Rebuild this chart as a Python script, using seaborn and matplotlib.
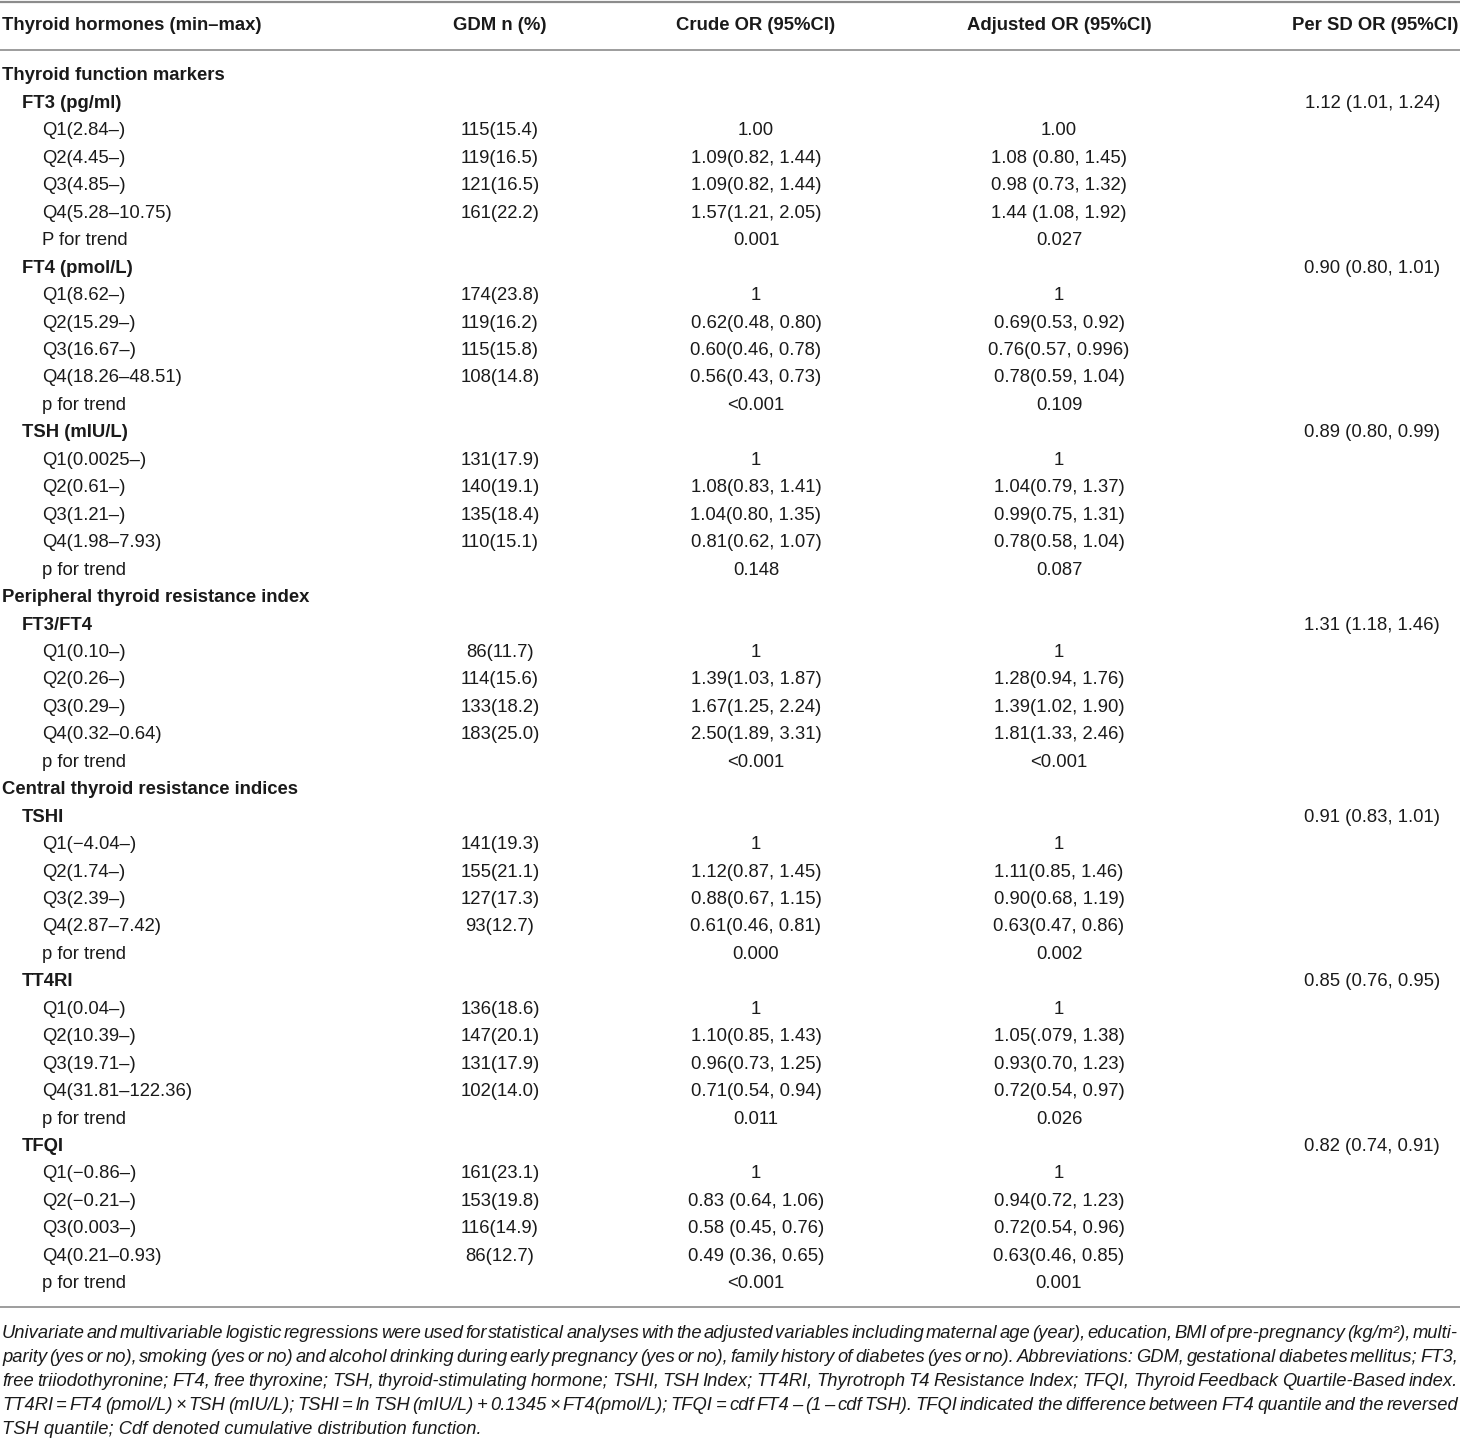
import numpy as np
import pandas as pd
import matplotlib
matplotlib.use("Agg")
import matplotlib.pyplot as plt
import seaborn as sns

sns.set_theme(style="white")
plt.rcParams['font.family'] = ['Liberation Sans', 'DejaVu Sans']

# columns
headers = ["Thyroid hormones (min\u2013max)", "GDM n (%)", "Crude OR (95%CI)",
           "Adjusted OR (95%CI)", "Per SD OR (95%CI)"]

# row labels: (text, level) level 0 = group, 1 = marker, 2 = quartile / trend
labels = [
    ("Thyroid function markers", 0),
    ("FT3 (pg/ml)", 1), ("Q1(2.84\u2013)", 2), ("Q2(4.45\u2013)", 2), ("Q3(4.85\u2013)", 2),
    ("Q4(5.28\u201310.75)", 2), ("P for trend", 2),
    ("FT4 (pmol/L)", 1), ("Q1(8.62\u2013)", 2), ("Q2(15.29\u2013)", 2), ("Q3(16.67\u2013)", 2),
    ("Q4(18.26\u201348.51)", 2), ("p for trend", 2),
    ("TSH (mIU/L)", 1), ("Q1(0.0025\u2013)", 2), ("Q2(0.61\u2013)", 2), ("Q3(1.21\u2013)", 2),
    ("Q4(1.98\u20137.93)", 2), ("p for trend", 2),
    ("Peripheral thyroid resistance index", 0),
    ("FT3/FT4", 1), ("Q1(0.10\u2013)", 2), ("Q2(0.26\u2013)", 2), ("Q3(0.29\u2013)", 2),
    ("Q4(0.32\u20130.64)", 2), ("p for trend", 2),
    ("Central thyroid resistance indices", 0),
    ("TSHI", 1), ("Q1(\u22124.04\u2013)", 2), ("Q2(1.74\u2013)", 2), ("Q3(2.39\u2013)", 2),
    ("Q4(2.87\u20137.42)", 2), ("p for trend", 2),
    ("TT4RI", 1), ("Q1(0.04\u2013)", 2), ("Q2(10.39\u2013)", 2), ("Q3(19.71\u2013)", 2),
    ("Q4(31.81\u2013122.36)", 2), ("p for trend", 2),
    ("TFQI", 1), ("Q1(\u22120.86\u2013)", 2), ("Q2(\u22120.21\u2013)", 2), ("Q3(0.003\u2013)", 2),
    ("Q4(0.21\u20130.93)", 2), ("p for trend", 2),
]

gdm = ["", "",
       "115(15.4)", "119(16.5)", "121(16.5)", "161(22.2)", "", "",
       "174(23.8)", "119(16.2)", "115(15.8)", "108(14.8)", "", "",
       "131(17.9)", "140(19.1)", "135(18.4)", "110(15.1)", "", "", "",
       "86(11.7)", "114(15.6)", "133(18.2)", "183(25.0)", "", "", "",
       "141(19.3)", "155(21.1)", "127(17.3)", "93(12.7)", "", "",
       "136(18.6)", "147(20.1)", "131(17.9)", "102(14.0)", "", "",
       "161(23.1)", "153(19.8)", "116(14.9)", "86(12.7)", ""]

crude = ["", "",
         "1.00", "1.09(0.82, 1.44)", "1.09(0.82, 1.44)", "1.57(1.21, 2.05)", "0.001", "",
         "1", "0.62(0.48, 0.80)", "0.60(0.46, 0.78)", "0.56(0.43, 0.73)", "<0.001", "",
         "1", "1.08(0.83, 1.41)", "1.04(0.80, 1.35)", "0.81(0.62, 1.07)", "0.148", "", "",
         "1", "1.39(1.03, 1.87)", "1.67(1.25, 2.24)", "2.50(1.89, 3.31)", "<0.001", "", "",
         "1", "1.12(0.87, 1.45)", "0.88(0.67, 1.15)", "0.61(0.46, 0.81)", "0.000", "",
         "1", "1.10(0.85, 1.43)", "0.96(0.73, 1.25)", "0.71(0.54, 0.94)", "0.011", "",
         "1", "0.83 (0.64, 1.06)", "0.58 (0.45, 0.76)", "0.49 (0.36, 0.65)", "<0.001"]

adjusted = ["", "",
            "1.00", "1.08 (0.80, 1.45)", "0.98 (0.73, 1.32)", "1.44 (1.08, 1.92)", "0.027", "",
            "1", "0.69(0.53, 0.92)", "0.76(0.57, 0.996)", "0.78(0.59, 1.04)", "0.109", "",
            "1", "1.04(0.79, 1.37)", "0.99(0.75, 1.31)", "0.78(0.58, 1.04)", "0.087", "", "",
            "1", "1.28(0.94, 1.76)", "1.39(1.02, 1.90)", "1.81(1.33, 2.46)", "<0.001", "", "",
            "1", "1.11(0.85, 1.46)", "0.90(0.68, 1.19)", "0.63(0.47, 0.86)", "0.002", "",
            "1", "1.05(.079, 1.38)", "0.93(0.70, 1.23)", "0.72(0.54, 0.97)", "0.026", "",
            "1", "0.94(0.72, 1.23)", "0.72(0.54, 0.96)", "0.63(0.46, 0.85)", "0.001"]

per_sd = {"FT3 (pg/ml)": "1.12 (1.01, 1.24)", "FT4 (pmol/L)": "0.90 (0.80, 1.01)",
          "TSH (mIU/L)": "0.89 (0.80, 0.99)", "FT3/FT4": "1.31 (1.18, 1.46)",
          "TSHI": "0.91 (0.83, 1.01)", "TT4RI": "0.85 (0.76, 0.95)",
          "TFQI": "0.82 (0.74, 0.91)"}

footnote = [
    "Univariate and multivariable logistic regressions were used for statistical analyses with the adjusted variables including maternal age (year), education, BMI of pre-pregnancy (kg/m\u00b2), multi-",
    "parity (yes or no), smoking (yes or no) and alcohol drinking during early pregnancy (yes or no), family history of diabetes (yes or no). Abbreviations: GDM, gestational diabetes mellitus; FT3,",
    "free triiodothyronine; FT4, free thyroxine; TSH, thyroid-stimulating hormone; TSHI, TSH Index; TT4RI, Thyrotroph T4 Resistance Index; TFQI, Thyroid Feedback Quartile-Based index.",
    "TT4RI = FT4 (pmol/L) \u00d7 TSH (mIU/L); TSHI = ln TSH (mIU/L) + 0.1345 \u00d7 FT4(pmol/L); TFQI = cdf FT4 \u2013 (1 \u2013 cdf TSH). TFQI indicated the difference between FT4 quantile and the reversed",
    "TSH quantile; Cdf denoted cumulative distribution function.",
]

W, H = 1460, 1442
fig = plt.figure(figsize=(W / 100, H / 100), dpi=100)
ax = fig.add_axes([0, 0, 1, 1])
ax.set_xlim(0, W)
ax.set_ylim(H, 0)
ax.axis("off")

fs = 13.3
txt = "#1a1a1a"
line_c = "#8c8c8c"

# horizontal rules
for y, lw in [(1.5, 1.6), (50, 1.2), (1307, 1.2)]:
    ax.plot([0, W], [y, y], color=line_c, lw=lw, solid_capstyle="butt")

# header
hy = 26
ax.text(2, hy, headers[0], ha="left", va="center", fontsize=fs, fontweight="bold", color=txt)
ax.text(500, hy, headers[1], ha="center", va="center", fontsize=fs, fontweight="bold", color=txt)
ax.text(756, hy, headers[2], ha="center", va="center", fontsize=fs, fontweight="bold", color=txt)
ax.text(1059, hy, headers[3], ha="center", va="center", fontsize=fs, fontweight="bold", color=txt)
ax.text(1458, hy, headers[4], ha="right", va="center", fontsize=fs, fontweight="bold", color=txt)

# body rows
y0, dy = 76, 27.45
indent = {0: 2, 1: 22, 2: 42}
for i, (lab, lev) in enumerate(labels):
    y = y0 + i * dy
    ax.text(indent[lev], y, lab, ha="left", va="center", fontsize=fs,
            fontweight="bold" if lev < 2 else "normal", color=txt)
    ax.text(500, y, gdm[i], ha="center", va="center", fontsize=fs, color=txt)
    ax.text(756, y, crude[i], ha="center", va="center", fontsize=fs, color=txt)
    ax.text(1059, y, adjusted[i], ha="center", va="center", fontsize=fs, color=txt)
    if lab in per_sd:
        ax.text(1440, y, per_sd[lab], ha="right", va="center", fontsize=fs, color=txt)

# footnote, justified word by word on a shared baseline
fig.canvas.draw()
renderer = fig.canvas.get_renderer()
fy0, fdy = 1338, 24
ffs = 13.2
for k, line in enumerate(footnote):
    y = fy0 + k * fdy
    if k == len(footnote) - 1:
        ax.text(2, y, line, ha="left", va="baseline", fontsize=ffs, style="italic", color=txt)
        continue
    words = line.split(" ")
    objs = [ax.text(0, y, w, ha="left", va="baseline", fontsize=ffs, style="italic", color=txt)
            for w in words]
    widths = [o.get_window_extent(renderer).width for o in objs]
    gap = (1458 - 2 - sum(widths)) / (len(words) - 1)
    x = 2
    for o, w in zip(objs, widths):
        o.set_x(x)
        x += w + gap

fig.savefig("out.png", dpi=100)
